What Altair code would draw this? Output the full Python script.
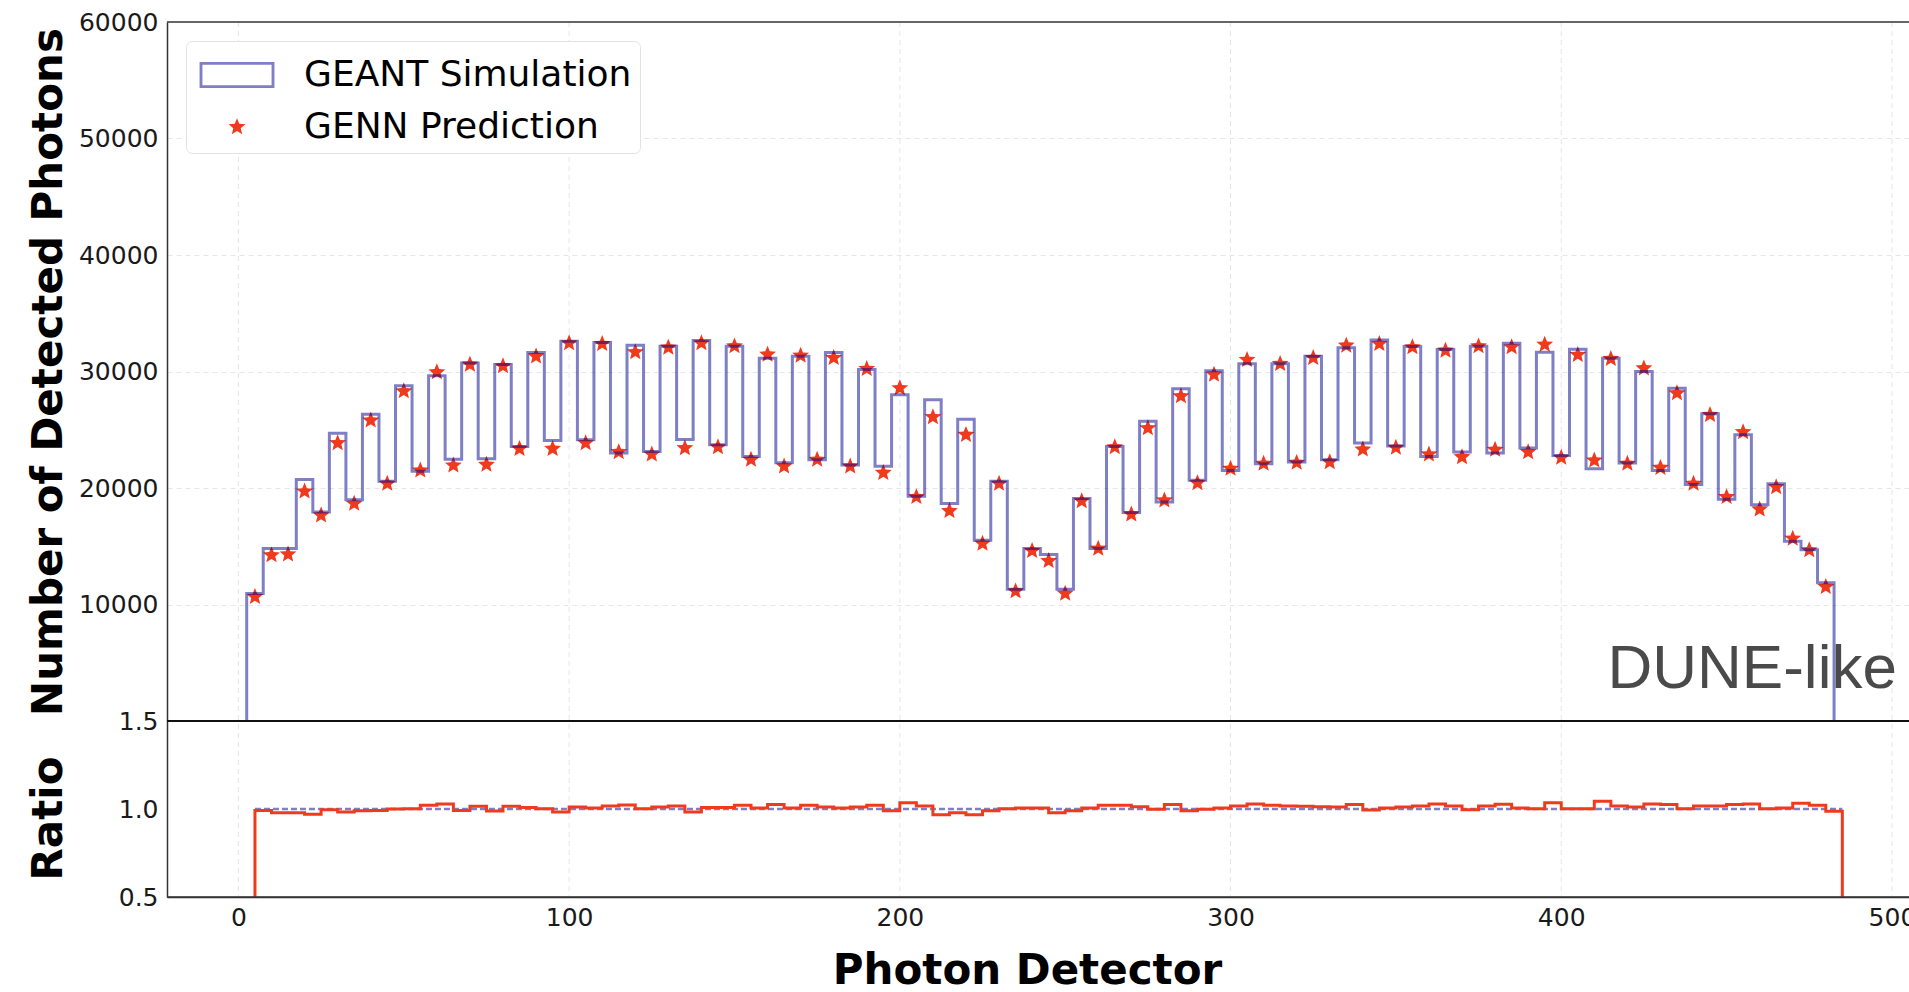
import math
import altair as alt
import pandas as pd

# ---------------- data ----------------
geant = [10940, 14800, 14800, 20740, 17940, 24710, 19000, 26340, 20570, 28770,
         21430, 29630, 22460, 30740, 22510, 30600, 23570, 31630, 24080, 32600,
         24140, 32490, 23000, 32260, 23140, 32160, 24170, 32660, 23710, 32170,
         22710, 31140, 22170, 31310, 22430, 31630, 21970, 30170, 21860, 28000,
         19290, 27570, 18660, 25910, 15510, 20570, 11310, 14800, 14290, 11310,
         19090, 14800, 23570, 17890, 25740, 18800, 28510, 20660, 30060, 21510,
         30660, 22090, 30660, 22230, 31310, 22430, 32030, 23860, 32710, 23600,
         32140, 22710, 31890, 23090, 32170, 23000, 32430, 23430, 31660, 22800,
         31920, 21660, 31140, 22140, 30000, 21510, 28570, 20290, 26370, 19030,
         24570, 18570, 20370, 15430, 14710, 11860]

genn = [10660, 14230, 14310, 19710, 17660, 23860, 18660, 25800, 20370, 28310,
        21510, 29940, 21940, 30600, 22000, 30460, 23370, 31310, 23370, 32430,
        23860, 32370, 23090, 31660, 22890, 32060, 23430, 32430, 23510, 32170,
        22430, 31460, 21860, 31370, 22430, 31170, 21860, 30230, 21310, 28570,
        19230, 26090, 18030, 24570, 15230, 20370, 11140, 14600, 13740, 10940,
        18880, 14800, 23510, 17740, 25140, 18940, 27880, 20430, 29740, 21660,
        31000, 22090, 30660, 22170, 31170, 22230, 32230, 23310, 32370, 23460,
        32090, 22890, 31800, 22660, 32170, 23290, 32090, 23090, 32310, 22600,
        31430, 22370, 31090, 22090, 30280, 21740, 28140, 20370, 26280, 19230,
        24800, 18170, 20080, 15660, 14660, 11510]

ratio = [0.992, 0.979, 0.979, 0.970, 0.996, 0.983, 0.990, 0.992, 1.000, 1.002,
         1.021, 1.029, 0.992, 1.015, 0.989, 1.015, 1.008, 1.002, 0.983, 1.011,
         1.006, 1.017, 1.023, 1.002, 1.011, 1.017, 0.983, 1.008, 1.008, 1.021,
         1.006, 1.025, 1.006, 1.021, 1.011, 1.006, 1.011, 1.021, 0.990, 1.036,
         1.017, 0.968, 0.979, 0.968, 0.990, 1.002, 1.006, 1.006, 0.979, 0.990,
         1.006, 1.021, 1.021, 1.013, 0.998, 1.025, 0.990, 0.998, 1.006, 1.017,
         1.029, 1.021, 1.017, 1.015, 1.013, 1.011, 1.025, 0.994, 1.006, 1.011,
         1.017, 1.029, 1.017, 0.996, 1.017, 1.027, 1.006, 1.002, 1.036, 1.002,
         1.002, 1.044, 1.017, 1.011, 1.029, 1.025, 1.002, 1.017, 1.017, 1.025,
         1.029, 1.002, 1.006, 1.032, 1.021, 0.987]

x_ticks = [0, 100, 200, 300, 400, 500]
y_ticks = [10000, 20000, 30000, 40000, 50000, 60000]
ratio_ticks = [0.5, 1.0, 1.5]
series_names = ["GEANT Simulation", "GENN Prediction"]
annotation = "DUNE-like"

hist_start = 2.5      # first bin edge of the simulation histogram
ratio_start = 5.0     # first edge of the ratio step line
bin_width = 5.0
ratio_ref = 1.0

# ---------------- tables built from the arrays ----------------
n = len(geant)
hist_edges = [hist_start + bin_width * k for k in range(n + 1)]
ratio_edges = [ratio_start + bin_width * k for k in range(n + 1)]
centers = [hist_start + bin_width * (k + 0.5) for k in range(n)]

hist_rows = [{"i": 0, "x": hist_edges[0], "y": 0}]
hist_rows += [{"i": k + 1, "x": hist_edges[k], "y": geant[k]} for k in range(n)]
hist_rows += [{"i": n + 1, "x": hist_edges[n], "y": geant[-1]},
              {"i": n + 2, "x": hist_edges[n], "y": 0}]
hist_df = pd.DataFrame(hist_rows)

star_df = pd.DataFrame({"x": centers, "y": genn, "series": series_names[1]})

ratio_rows = [{"i": 0, "x": ratio_edges[0], "r": ratio_ticks[0]}]
ratio_rows += [{"i": k + 1, "x": ratio_edges[k], "r": ratio[k]} for k in range(n)]
ratio_rows += [{"i": n + 1, "x": ratio_edges[n], "r": ratio[-1]},
               {"i": n + 2, "x": ratio_edges[n], "r": ratio_ticks[0]}]
ratio_df = pd.DataFrame(ratio_rows)

ref_df = pd.DataFrame({"x": [ratio_edges[0], ratio_edges[-1]], "r": [ratio_ref, ratio_ref]})
xgrid_df = pd.DataFrame({"x": x_ticks})
top_border_df = pd.DataFrame({"y": [y_ticks[-1]]})
sep_df = pd.DataFrame({"y": [0]})
bottom_border_df = pd.DataFrame({"r": [ratio_ticks[0]]})
text_df = pd.DataFrame({"x": [414], "y": [2830], "label": [annotation]})

# ---------------- styling ----------------
W, H = 1742, 875
TOP_H = 699
BLUE_LINE = "#00008b"
BLUE_LEG = "#7f7fc5"
RED = "#f03a1e"
FONT = "DejaVu Sans"
GRID = "#e6e6e6"


def star_path(r_out, r_in):
    pts = []
    for k in range(10):
        r = r_out if k % 2 == 0 else r_in
        a = -math.pi / 2 + k * math.pi / 5
        pts.append((r * math.cos(a), r * math.sin(a)))
    return "M" + "L".join(f"{px:.4f},{py:.4f}" for px, py in pts) + "Z"


ring_path = "M-1.44,-0.5H1.44V0.5H-1.44ZM-1.33,-0.39V0.39H1.33V-0.39Z"
star_shape = star_path(0.34, 0.15)

x_axis = alt.Axis(values=x_ticks, title="Photon Detector", grid=False,
                  labelPadding=8, titleX=860, titleY=86, titleAlign="center",
                  titleBaseline="alphabetic", domain=True)
x_enc = alt.X("x:Q", scale=alt.Scale(domain=[-21.6, -21.6 + W / 3.307], nice=False, zero=False),
              axis=x_axis)

top_axis = alt.Axis(values=y_ticks, orient="left", title="Number of Detected Photons",
                    format="d", labelPadding=9, titleX=-106, titleY=349.5,
                    titleBaseline="alphabetic", titleAngle=-90, titleAlign="center",
                    domain=True,
                    gridOpacity={"condition": {"test": "datum.value >= 60000", "value": 0}, "value": 1})
y_top = alt.Y("y:Q", scale=alt.Scale(domain=[0, 60000], range=[TOP_H, 0], nice=False, zero=False),
              axis=top_axis)

ratio_axis = alt.Axis(values=ratio_ticks, orient="left", title="Ratio", format=".1f",
                      labelPadding=9, titleX=-106, titleY=796, titleBaseline="alphabetic",
                      titleAngle=-90, titleAlign="center", domain=True,
                      gridOpacity={"condition": {"test": "datum.value != 1", "value": 0}, "value": 1})
y_ratio = alt.Y("r:Q", scale=alt.Scale(domain=[0.5, 1.5], range=[H, TOP_H], nice=False, zero=False),
                axis=ratio_axis)

legend = alt.Legend(title=None, orient="none", legendX=19, legendY=19,
                    fillColor="white", strokeColor="#e2e2e2", cornerRadius=6,
                    padding=8, rowPadding=8, symbolSize=2704, symbolOffset=17,
                    labelOffset=41, labelFont=FONT, labelFontSize=36, labelColor="black",
                    symbolStrokeWidth=0, symbolOpacity=1, labelLimit=600)

color_scale = alt.Scale(domain=series_names, range=[BLUE_LEG, RED])
shape_scale = alt.Scale(domain=series_names, range=[ring_path, star_shape])

# ---------------- layers ----------------
xgrid = alt.Chart(xgrid_df).mark_rule(color=GRID, strokeWidth=1, strokeDash=[5, 4]).encode(x=x_enc)

stars = alt.Chart(star_df).mark_point(filled=True, size=2704, opacity=1, strokeWidth=0).encode(
    x=x_enc, y=y_top,
    color=alt.Color("series:N", scale=color_scale, legend=legend),
    shape=alt.Shape("series:N", scale=shape_scale, legend=legend),
)

hist = alt.Chart(hist_df).mark_line(interpolate="step-after", color=BLUE_LINE,
                                    opacity=0.5, strokeWidth=3).encode(
    x=x_enc, y=y_top, order=alt.Order("i:Q"))

top_border = alt.Chart(top_border_df).mark_rule(color="#333333", strokeWidth=1.5).encode(y=y_top)
sep = alt.Chart(sep_df).mark_rule(color="#111111", strokeWidth=2).encode(y=y_top)

label = alt.Chart(text_df).mark_text(align="left", baseline="alphabetic", font="Liberation Sans",
                                     fontSize=62, color="#4a4a4a").encode(
    x=x_enc, y=y_top, text="label:N")

top = alt.layer(xgrid, stars, hist, label, top_border, sep)

ref = alt.Chart(ref_df).mark_line(color=BLUE_LINE, opacity=0.5, strokeWidth=2.5,
                                  strokeDash=[6, 3]).encode(x=x_enc, y=y_ratio)
ratio_line = alt.Chart(ratio_df).mark_line(interpolate="step-after", color=RED,
                                           strokeWidth=3).encode(
    x=x_enc, y=y_ratio, order=alt.Order("i:Q"))
bottom_border = alt.Chart(bottom_border_df).mark_rule(color="#333333", strokeWidth=1.5).encode(y=y_ratio)

bottom = alt.layer(ref, ratio_line, bottom_border)

chart = alt.layer(top, bottom).resolve_scale(y="independent").resolve_axis(y="independent").properties(
    width=W, height=H,
    autosize=alt.AutoSizeParams(type="none"),
    padding={"left": 167, "top": 22, "right": 0, "bottom": 95},
    background="white",
).configure_view(stroke=None).configure_axis(
    labelFont=FONT, labelFontSize=25, labelColor="#1a1a1a",
    titleFont=FONT, titleFontSize=42, titleFontWeight="bold", titleColor="black",
    gridColor=GRID, gridDash=[5, 4], gridWidth=1,
    ticks=False, domainColor="#333333", domainWidth=1.5,
)

chart.save("out.html", embed_options={"renderer": "svg", "actions": False})
